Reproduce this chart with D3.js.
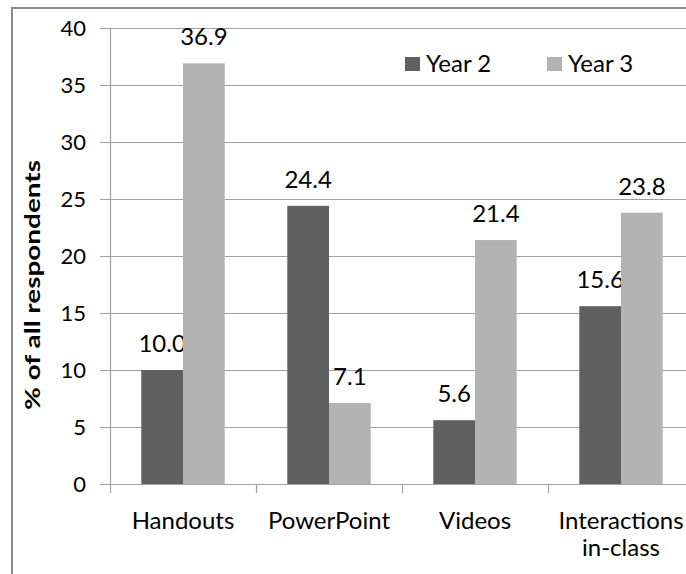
<!DOCTYPE html>
<html>
<head>
<meta charset="utf-8">
<script src="https://cdn.jsdelivr.net/npm/d3@7"></script>
<style>
    body { margin: 0; background: #fff; }
    .chart text { font-family: Lato, "Open Sans", sans-serif; fill: #000; }
    .chart__tick-label { font-size: 22px; }
    .chart__value { font-size: 24px; }
    .chart__category { font-size: 24px; }
    .chart__legend-text { font-size: 24px; }
    .chart__title { font-size: 20px; font-weight: bold; }
</style>
</head>
<body>
<div class="chart"></div>
<script>
var categories = ['Handouts', 'PowerPoint', 'Videos', 'Interactions\nin-class'];
var seriesNames = ['Year 2', 'Year 3'];
var year2 = [10.0, 24.4, 5.6, 15.6];
var year3 = [36.9, 7.1, 21.4, 23.8];
var yTicks = [0, 5, 10, 15, 20, 25, 30, 35, 40];
var colors = ['#606060', '#b3b3b3'];

(function() {
    var options = {
        width: 686,
        height: 574,
        left: 110,
        right: 694,
        top: 28,
        bottom: 484,
        gapWidth: 1.5
    };

    var values = [year2, year3];

    var svg = d3.select('.chart')
        .append('svg')
        .attr('width', options.width)
        .attr('height', options.height);

    // outer frame, cut off on the right and at the bottom
    svg.append('rect')
        .attr('x', 12)
        .attr('y', 8)
        .attr('width', 720)
        .attr('height', 620)
        .attr('fill', 'none')
        .attr('stroke', '#8c8c8c')
        .attr('stroke-width', 2);

    var x = d3.scaleBand()
        .domain(categories)
        .range([options.left, options.right]);

    var bw = x.bandwidth();
    var barWidth = bw / (values.length + options.gapWidth);
    var groupStart = bw * options.gapWidth / 2 / (values.length + options.gapWidth);

    var xSeries = d3.scaleBand()
        .domain(seriesNames)
        .range([groupStart, groupStart + barWidth * values.length]);

    var y = d3.scaleLinear()
        .domain([0, 40])
        .range([options.bottom, options.top]);

    // gridlines
    svg.append('g')
        .selectAll('line')
        .data(yTicks)
        .enter()
        .append('line')
        .attr('x1', options.left - 10)
        .attr('x2', options.right)
        .attr('y1', function(d) { return Math.round(y(d)) + 0.5; })
        .attr('y2', function(d) { return Math.round(y(d)) + 0.5; })
        .attr('stroke', '#a0a0a0')
        .attr('stroke-width', 1.2);

    svg.append('g')
        .selectAll('text')
        .data(yTicks)
        .enter()
        .append('text')
        .classed('chart__tick-label', true)
        .attr('text-anchor', 'end')
        .attr('x', 86)
        .attr('y', function(d) { return y(d) + 8; })
        .text(function(d) { return d; });

    // bars
    seriesNames.forEach(function(name, i) {
        var g = svg.append('g');

        g.selectAll('rect')
            .data(values[i])
            .enter()
            .append('rect')
            .attr('x', function(d, j) { return x(categories[j]) + xSeries(name); })
            .attr('y', function(d) { return y(d); })
            .attr('width', xSeries.bandwidth())
            .attr('height', function(d) { return y(0) - y(d); })
            .attr('fill', colors[i]);

        g.selectAll('text')
            .data(values[i])
            .enter()
            .append('text')
            .classed('chart__value', true)
            .attr('text-anchor', 'middle')
            .attr('x', function(d, j) { return x(categories[j]) + xSeries(name) + xSeries.bandwidth() / 2; })
            .attr('y', function(d) { return y(d) - 18; })
            .text(function(d) { return d.toFixed(1); });
    });

    // axes lines
    svg.append('line')
        .attr('x1', options.left + 0.5)
        .attr('x2', options.left + 0.5)
        .attr('y1', options.top)
        .attr('y2', options.bottom)
        .attr('stroke', '#a0a0a0')
        .attr('stroke-width', 1.2);

    var xTickPositions = categories.map(function(c) { return x(c); }).concat([options.right]);

    svg.append('g')
        .selectAll('line')
        .data(xTickPositions)
        .enter()
        .append('line')
        .attr('x1', function(d) { return Math.round(d) + 0.5; })
        .attr('x2', function(d) { return Math.round(d) + 0.5; })
        .attr('y1', options.bottom)
        .attr('y2', options.bottom + 9)
        .attr('stroke', '#a0a0a0')
        .attr('stroke-width', 1.2);

    // category labels
    var catLabels = svg.append('g')
        .selectAll('text')
        .data(categories)
        .enter()
        .append('text')
        .classed('chart__category', true)
        .attr('text-anchor', 'middle')
        .attr('x', function(d) { return x(d) + bw / 2; })
        .attr('y', 529);

    catLabels.each(function(d) {
        var el = d3.select(this);
        d.split('\n').forEach(function(line, k) {
            el.append('tspan')
                .attr('x', x(d) + bw / 2)
                .attr('dy', k === 0 ? 0 : 27)
                .text(line);
        });
    });

    // axis title
    svg.append('text')
        .classed('chart__title', true)
        .attr('text-anchor', 'middle')
        .attr('transform', 'translate(40, 285) rotate(-90)')
        .attr('textLength', 250)
        .attr('lengthAdjust', 'spacingAndGlyphs')
        .text('% of all respondents');

    // legend
    var legendX = [405, 547];
    var legend = svg.append('g')
        .selectAll('g')
        .data(seriesNames)
        .enter()
        .append('g')
        .attr('transform', function(d, i) { return 'translate(' + legendX[i] + ', 57)'; });

    legend.append('rect')
        .attr('width', 15)
        .attr('height', 14)
        .attr('fill', function(d, i) { return colors[i]; });

    legend.append('text')
        .classed('chart__legend-text', true)
        .attr('x', 21)
        .attr('y', 15)
        .text(function(d) { return d; });
})();
</script>
</body>
</html>
